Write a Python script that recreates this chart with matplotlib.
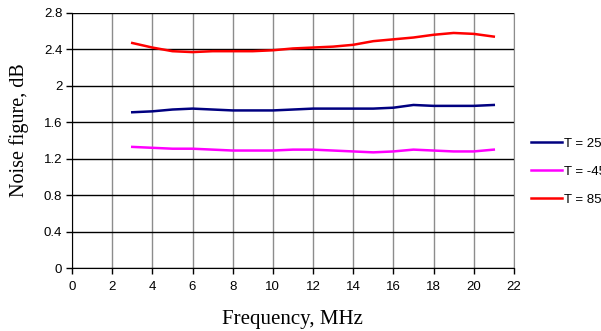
import numpy as np
import matplotlib.pyplot as plt

# data
freq = [3, 4, 5, 6, 7, 8, 9, 10, 11, 12, 13, 14, 15, 16, 17, 18, 19, 20, 21]
nf_t25 = [1.71, 1.72, 1.74, 1.75, 1.74, 1.73, 1.73, 1.73, 1.74, 1.75,
          1.75, 1.75, 1.75, 1.76, 1.79, 1.78, 1.78, 1.78, 1.79]
nf_tm45 = [1.33, 1.32, 1.31, 1.31, 1.30, 1.29, 1.29, 1.29, 1.30, 1.30,
           1.29, 1.28, 1.27, 1.28, 1.30, 1.29, 1.28, 1.28, 1.30]
nf_t85 = [2.47, 2.42, 2.38, 2.37, 2.38, 2.38, 2.38, 2.39, 2.41, 2.42,
          2.43, 2.45, 2.49, 2.51, 2.53, 2.56, 2.58, 2.57, 2.54]
labels = ['T = 25', 'T = -45', 'T = 85']
colors = ['#000080', '#ff00ff', '#ff0000']

fig = plt.figure(figsize=(6.01, 3.31), dpi=100)
ax = fig.add_axes([0.1198, 0.190, 0.855 - 0.1198, 0.771])

for ys, lab, c in zip([nf_t25, nf_tm45, nf_t85], labels, colors):
    ax.plot(freq, ys, color=c, lw=1.8, label=lab)

ax.set_xlim(0, 22)
ax.set_ylim(0, 2.8)
ax.set_xticks(np.arange(0, 23, 2))
ax.set_yticks(np.arange(0, 2.81, 0.4))
ax.set_yticklabels(['0', '0.4', '0.8', '1.2', '1.6', '2', '2.4', '2.8'])

# grid: gray verticals, black horizontals
ax.xaxis.grid(True, color='#8c8c8c', lw=1)
ax.yaxis.grid(True, color='black', lw=1)
ax.set_axisbelow(True)

ax.spines['top'].set_visible(False)
ax.spines['right'].set_color('#8c8c8c')
ax.spines['left'].set_color('black')
ax.spines['bottom'].set_color('black')

ax.tick_params(direction='out', length=4, width=1, labelsize=9.5,
               colors='black', pad=3)
for t in ax.get_xticklabels() + ax.get_yticklabels():
    t.set_fontfamily('Liberation Sans')
ax.tick_params(axis='x', pad=5)

ax.set_xlabel('Frequency, MHz', fontfamily='Liberation Serif', fontsize=15, labelpad=8)
ax.set_ylabel('Noise figure, dB', fontfamily='Liberation Serif', fontsize=14.5)
ax.xaxis.set_label_coords(0.5, -0.165)
ax.yaxis.set_label_coords(-0.098, 0.54)

leg = fig.legend(loc='upper left', bbox_to_anchor=(0.863, 0.62), frameon=False,
                 handlelength=2.4, handletextpad=0.15, labelspacing=1.2,
                 prop={'family': 'Liberation Sans', 'size': 9.5})

fig.savefig('out.png', dpi=100)
